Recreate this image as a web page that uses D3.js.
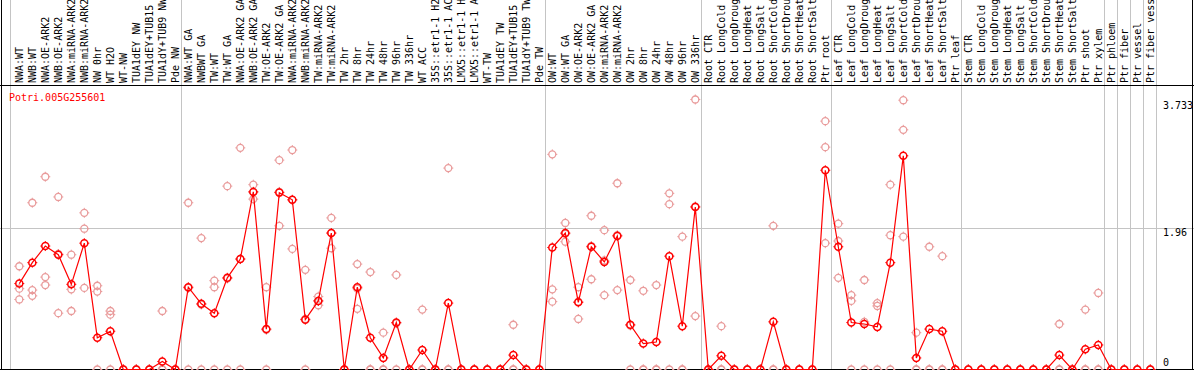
<!DOCTYPE html>
<html>
<head>
<meta charset="utf-8">
<script src="https://cdn.jsdelivr.net/npm/d3@7"></script>
<style>
  body { margin: 0; background: #fff; }
  text { font-family: "DejaVu Sans Mono", monospace; font-size: 10px; }
</style>
</head>
<body>
<svg width="1194" height="370"></svg>
<script>
// sample names, left to right
const categories = [
  'NWA:WT', 'NWB:WT', 'NWA:OE-ARK2', 'NWB:OE-ARK2', 'NWA:miRNA-ARK2', 'NWB:miRNA-ARK2', 'NW 0hr', 'WT H2O', 'WT-NW',
  'TUA1dEY NW', 'TUA1dEY+TUB15 NW', 'TUA1dY+TUB9 NW', 'Pde NW',
  'NWA:WT GA', 'NWBWT GA', 'TW:WT', 'TW:WT GA', 'NWA:OE-ARK2 GA', 'NWB:OE-ARK2 GA', 'TW:OE-ARK2', 'TW:OE-ARK2 GA',
  'NWA:miRNA-ARK2', 'NWB:miRNA-ARK2', 'TW:miRNA-ARK2', 'TW:miRNA-ARK2 ', 'TW 2hr', 'TW 8hr', 'TW 24hr', 'TW 48hr',
  'TW 96hr', 'TW 336hr', 'WT ACC', '35S::etr1-1 H2O', '35S::etr1-1 ACC', 'LMX5::etr1-1 H2O', 'LMX5::etr1-1 ACC',
  'WT-TW', 'TUA1dEY TW', 'TUA1dEY+TUB15 TW', 'TUA1dY+TUB9 TW', 'Pde TW',
  'OW:WT', 'OW:WT GA', 'OW:OE-ARK2', 'OW:OE-ARK2 GA', 'OW:miRNA-ARK2', 'OW:miRNA-ARK2 ', 'OW 2hr', 'OW 8hr',
  'OW 24hr', 'OW 48hr', 'OW 96hr', 'OW 336hr',
  'Root CTR', 'Root LongCold', 'Root LongDrought', 'Root LongHeat', 'Root LongSalt', 'Root ShortCold',
  'Root ShortDrought', 'Root ShortHeat', 'Root ShortSalt', 'Ptr root',
  'Leaf CTR', 'Leaf LongCold', 'Leaf LongDrought', 'Leaf LongHeat', 'Leaf LongSalt', 'Leaf ShortCold',
  'Leaf ShortDrought', 'Leaf ShortHeat', 'Leaf ShortSalt', 'Ptr leaf',
  'Stem CTR', 'Stem LongCold', 'Stem LongDrought', 'Stem LongHeat', 'Stem LongSalt', 'Stem ShortCold',
  'Stem ShortDrought', 'Stem ShortHeat', 'Stem ShortSalt', 'Ptr shoot', 'Ptr xylem',
  'Ptr phloem', 'Ptr fiber', 'Ptr vessel', 'Ptr fiber vessel'
]
// mean expression per sample
const meanValues = [
  1.19, 1.48, 1.71, 1.59, 1.18, 1.75, 0.44, 0.53, 0, 0, 0, 0.11, 0,
  1.14, 0.91, 0.78, 1.27, 1.53, 2.46, 0.56, 2.45, 2.35, 0.69, 0.95, 1.89, 0, 1.14, 0.44, 0.16,
  0.65, 0, 0.27, 0, 0.92, 0, 0, 0, 0, 0.20, 0, 0,
  1.69, 1.89, 0.93, 1.70, 1.49, 1.85, 0.62, 0.36, 0.38, 1.57, 0.60, 2.25,
  0, 0.19, 0, 0, 0, 0.66, 0, 0, 0, 2.76,
  1.70, 0.65, 0.63, 0.59, 1.48, 2.96, 0.16, 0.56, 0.53, 0,
  0, 0, 0, 0, 0, 0, 0, 0.20, 0, 0.28, 0.34,
  0, 0, 0, 0
]
// replicates
const rep1 = [
  1.43, 2.31, 2.67, 2.39, 1.59, 2.17, 1.16, 0.81, 0, 0, 0, 0.81, 0,
  2.31, 1.82, 1.23, 2.54, 3.07, 2.56, 1.14, 2.90, 3.04, 1.38, 1.01, 2.10, 0, 1.46, 1.35, 0.51,
  1.31, 0, 0.83, 0, 2.79, 0, 0, 0, 0, 0.62, 0, 0,
  2.98, 2.03, 1.14, 2.13, 1.93, 2.58, 1.24, 1.09, 1.17, 2.44, 1.84, 3.74,
  0, 0.60, 0, 0, 0, 1.99, 0, 0, 0, 3.44,
  2.02, 1.03, 1.24, 0.92, 2.56, 3.73, 0.51, 1.70, 1.57, 0,
  0, 0, 0, 0, 0, 0, 0, 0.63, 0, 0.83, 1.06,
  0, 0, 0, 0
]
const rep2 = [
  1.12, 1.10, 1.28, 0.78, 1.11, 1.95, 1.08, 0.76, 0, 0, 0, 0, 0,
  1.13, 0.90, 1.14, 1.26, 1.53, 2.36, 0.55, 1.99, 1.67, 0.70, 0.89, 1.68, 0, 0.84, 0, 0,
  0.64, 0, 0, 0, 0, 0, 0, 0, 0, 0, 0, 0,
  1.11, 1.77, 0.70, 1.25, 1.03, 1.10, 0.61, 0, 0, 2.29, 0, 0.74,
  0, 0, 0, 0, 0, 0, 0, 0, 0, 3.08,
  1.78, 0.95, 0.66, 0.88, 1.86, 3.32, 0, 0, 0, 0,
  0, 0, 0, 0, 0, 0, 0, 0, 0, 0, 0,
  0, 0, 0, 0
]
const rep3 = [
  0.97, 1.02, 1.17, 1.60, 0.81, 1.13, 0, 0, 0, 0, 0, 0, 0,
  0, 0, 0, 0, 0, 2.46, 0, 2.46, 2.35, 0, 0.95, 1.89, 0, 1.12, 0, 0,
  0, 0, 0, 0, 0, 0, 0, 0, 0, 0, 0, 0,
  0.94, 1.88, 0.94, 1.71, 1.51, 1.86, 0, 0, 0, 0, 0, 2.26,
  0, 0, 0, 0, 0, 0, 0, 0, 0, 1.75,
  1.27, 0, 0, 0, 0, 1.84, 0, 0, 0, 0,
  0, 0, 0, 0, 0, 0, 0, 0, 0, 0, 0,
  0, 0, 0, 0
]
// last sample of each tissue / condition block
const groupEnds = [12, 40, 52, 62, 72, 83, 84, 85, 86, 87]
const yTicks = [0, 1.96, 3.733]
const geneName = 'Potri.005G255601'

let svg = d3.select('svg'),
    W = +svg.attr('width'), H = +svg.attr('height'),
    labelBottom = 85

let xScale = d3.scalePoint().domain(d3.range(categories.length)).range([19.3, 19.3 + 13 * (categories.length - 1)]),
    yScale = d3.scaleLinear().domain([0, 3.733]).range([369.5, 100])

//grid lines
svg.append('line')
    .attr('x1', 0).attr('x2', W)
    .attr('y1', Math.round(yScale(1.96)) + 0.5).attr('y2', Math.round(yScale(1.96)) + 0.5)
    .attr('stroke', '#c4c4c4')
let seps = [xScale(0) - 9].concat(groupEnds.map(i => xScale(i) + 5.5))
svg.selectAll('.sep')
    .data(seps)
    .enter()
    .append('line')
    .attr('class', 'sep')
    .attr('x1', d => Math.round(d) + 0.5).attr('x2', d => Math.round(d) + 0.5)
    .attr('y1', 0).attr('y2', H)
    .attr('stroke', '#c4c4c4')

//frame
svg.append('line').attr('x1', 0).attr('x2', W).attr('y1', labelBottom + 0.5).attr('y2', labelBottom + 0.5).attr('stroke', '#000')
svg.append('line').attr('x1', 0).attr('x2', W).attr('y1', 369.5).attr('y2', 369.5).attr('stroke', '#000')
svg.append('line').attr('x1', 1.5).attr('x2', 1.5).attr('y1', 0).attr('y2', H).attr('stroke', '#000')
svg.append('line').attr('x1', W - 1.5).attr('x2', W - 1.5).attr('y1', 0).attr('y2', H).attr('stroke', '#000')

//sample labels
svg.selectAll('.lab')
    .data(categories)
    .enter()
    .append('text')
    .attr('class', 'lab')
    .attr('transform', (d, i) => 'translate(' + (xScale(i) + 3.6) + ',' + (labelBottom - 2) + ') rotate(-90)')
    .text(d => d.trim())

//y labels
svg.selectAll('.ylab')
    .data(yTicks)
    .enter()
    .append('text')
    .attr('class', 'ylab')
    .attr('x', 1163)
    .attr('y', d => d === 0 ? yScale(d) - 4 : yScale(d) + 8.5)
    .text(d => d)

svg.append('text')
    .attr('x', 9)
    .attr('y', 101)
    .attr('fill', 'red')
    .text(geneName)

//marker: circle with four small ticks
function marker(sel, color, w) {
    sel.append('circle').attr('r', 3.5).attr('fill', 'none').attr('stroke', color).attr('stroke-width', w)
    sel.append('path').attr('d', 'M0,-5V-3.5M0,3.5V5M-5,0H-3.5M3.5,0H5').attr('stroke', color).attr('stroke-width', 1)
}

let reps = []
categories.forEach((c, i) => {
    [rep1[i], rep2[i], rep3[i]].forEach(v => reps.push({i: i, v: v}))
})
svg.selectAll('.rep')
    .data(reps)
    .enter()
    .append('g')
    .attr('class', 'rep')
    .attr('transform', d => 'translate(' + xScale(d.i) + ',' + yScale(d.v) + ')')
    .call(marker, '#e99b9b', 1.3)

let line = d3.line().x((d, i) => xScale(i)).y(d => yScale(d))
svg.append('path')
    .datum(meanValues)
    .attr('d', line)
    .attr('fill', 'none')
    .attr('stroke', 'red')
    .attr('stroke-width', 1.2)

svg.selectAll('.pt')
    .data(meanValues)
    .enter()
    .append('g')
    .attr('class', 'pt')
    .attr('transform', (d, i) => 'translate(' + xScale(i) + ',' + yScale(d) + ')')
    .call(marker, 'red', 1.5)
</script>
</body>
</html>
